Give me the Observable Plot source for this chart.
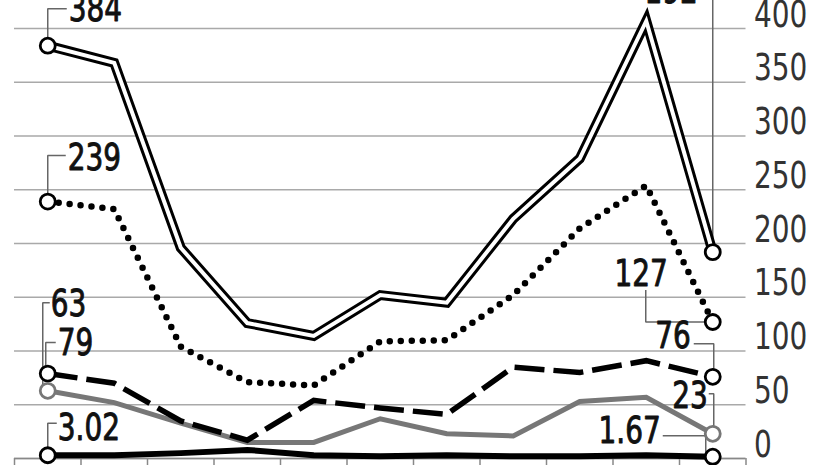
<!DOCTYPE html>
<html><head><meta charset="utf-8">
<script src="https://cdn.jsdelivr.net/npm/d3@7"></script>
<script src="https://cdn.jsdelivr.net/npm/@observablehq/plot@0.6"></script>
<style>html,body{margin:0;padding:0;background:#fff;overflow:hidden}</style>
</head><body><div id="chart"></div>
<script>
// ---- data ----
const periods = [0, 1, 2, 3, 4, 5, 6, 7, 8, 9, 10];
const doubleLineValues = [384, 368, 196, 126, 114, 152, 145, 223, 279, 407, 192];
const dottedValues     = [239, 232, 104, 71, 68, 109, 110, 152, 214, 254, 127];
const dashedValues     = [79, 70, 35, 17, 54, 47, 41, 85, 80, 91, 76];
const greyValues       = [63, 52, 33, 15, 15, 37, 23, 21, 53, 57, 23];
const blackValues      = [3.02, 3, 5, 8, 3, 2, 3, 2, 2, 3, 1.67];
const yTicks = [0, 50, 100, 150, 200, 250, 300, 350, 400];
const periodBoundaries = [-0.5, 0.5, 1.5, 2.5, 3.5, 4.5, 5.5, 6.5, 7.5, 8.5, 9.5, 10.5];

// ---- layout ----
const W = 826, H = 465;
const M = {top: 28, right: 80.5, bottom: 7, left: 14};
const xDomain = [-0.5, 10.5], yDomain = [0, 400];
const xs = Plot.scale({x: {type: "linear", domain: xDomain, range: [M.left, W - M.right]}});
const ys = Plot.scale({y: {type: "linear", domain: yDomain, range: [H - M.bottom, M.top]}});
const CONDENSE = 0.84;

const fmt = v => v < 10 ? v.toFixed(2) : String(v);

const series = [
  {key: "double", values: doubleLineValues, color: "#000"},
  {key: "dotted", values: dottedValues, color: "#000"},
  {key: "dashed", values: dashedValues, color: "#000"},
  {key: "grey",   values: greyValues,   color: "#777"},
  {key: "black",  values: blackValues,  color: "#000"}
];
const rowsOf = s => s.values.map((v, k) => ({key: s.key, i: periods[k], v}));

// label placement (pixel offsets from the end marker) and leader paths
const labelLayout = {
  double: {start: {dx: 21, dy: -37, anchor: "start", leader: [[0,0],[0,-37],[19,-37]]},
           end:   {dx: -15, dy: -261, anchor: "end",  leader: [[0,0],[0,-262],[-13,-262]]}},
  dotted: {start: {dx: 20, dy: -43, anchor: "start", leader: [[0,0],[0,-46],[18,-46]]},
           end:   {dx: -45, dy: -48, anchor: "end",  leader: [[0,0],[-67,0],[-67,-32]]}},
  dashed: {start: {dx: 10, dy: -30, anchor: "start", leader: [[-2,0],[-2,-31],[8,-31]]},
           end:   {dx: -22, dy: -41, anchor: "end",  leader: [[1,0],[1,-33],[-19,-33]]}},
  grey:   {start: {dx: 3, dy: -87, anchor: "start", leader: [[-5,0],[-5,-88],[2,-88]]},
           end:   {dx: -5, dy: -38, anchor: "end",  leader: [[1,0],[1,-40],[-4,-40]]}},
  black:  {start: {dx: 10, dy: -27, anchor: "start", leader: [[0,0],[0,-32],[9,-32]]},
           end:   {dx: -52, dy: -26, anchor: "end",  leader: [[-7,0],[-7,-21],[-50,-21]]}}
};

const endpoints = [];
const leaders = [];
const labelMarks = [];
for (const s of series) {
  const rows = rowsOf(s);
  for (const which of ["start", "end"]) {
    const r = which === "start" ? rows[0] : rows[rows.length - 1];
    endpoints.push({...r, color: s.color});
    const L = labelLayout[s.key][which];
    const id = s.key + which;
    for (const [px, py] of L.leader) {
      leaders.push({id,
        i: xs.invert(xs.apply(r.i) + px),
        v: ys.invert(ys.apply(r.v) + py)});
    }
    labelMarks.push(Plot.text([r], {x: "i", y: "v", text: d => fmt(d.v),
      dx: L.dx, dy: L.dy, textAnchor: L.anchor, lineAnchor: "middle",
      fill: "#111", stroke: "#111", strokeWidth: 0.9, fontSize: 37}));
  }
}

const tickBottom = ys.invert(ys.apply(0) + 14);
const lineOpts = {x: "i", y: "v", strokeLinejoin: "miter", strokeMiterlimit: 6, strokeLinecap: "butt"};
const byKey = k => rowsOf(series.find(s => s.key === k));

const plot = Plot.plot({
  width: W, height: H,
  marginTop: M.top, marginRight: M.right, marginBottom: M.bottom, marginLeft: M.left,
  x: {type: "linear", domain: xDomain, axis: null, label: null},
  y: {type: "linear", domain: yDomain, axis: null, label: null},
  style: {overflow: "visible", fontFamily: "'DejaVu Sans Condensed','DejaVu Sans',sans-serif", background: "#fff"},
  marks: [
    Plot.gridY(yTicks, {stroke: "#a9a9a9", strokeOpacity: 1, strokeWidth: 1.6}),
    Plot.ruleY([0], {stroke: "#888", strokeWidth: 1.5}),
    Plot.ruleX(periodBoundaries, {y1: 0, y2: tickBottom, stroke: "#888", strokeWidth: 1.5}),
    Plot.line(leaders, {x: "i", y: "v", z: "id", stroke: "#666", strokeWidth: 1.5, strokeLinejoin: "miter", strokeLinecap: "butt"}),
    Plot.line(byKey("grey"), {...lineOpts, stroke: "#777", strokeWidth: 5}),
    Plot.line(byKey("black"), {...lineOpts, stroke: "#000", strokeWidth: 6}),
    Plot.line(byKey("dashed"), {...lineOpts, stroke: "#000", strokeWidth: 5.5, strokeDasharray: "30 9"}),
    Plot.line(byKey("dotted"), {...lineOpts, stroke: "#000", strokeWidth: 6.5, strokeDasharray: "0 11", strokeLinecap: "round", strokeLinejoin: "round"}),
    Plot.line(byKey("double"), {...lineOpts, stroke: "#000", strokeWidth: 10}),
    Plot.line(byKey("double"), {...lineOpts, stroke: "#fff", strokeWidth: 4}),
    Plot.dot(endpoints, {x: "i", y: "v", r: 7.5, fill: "#fff", stroke: d => d.color, strokeWidth: 2.8}),
    ...labelMarks,
    Plot.axisY({anchor: "right", ticks: yTicks, tickSize: 0, tickPadding: 8, textAnchor: "start", lineAnchor: "bottom", dy: -2, fontSize: 37, fill: "#333", stroke: "#333", strokeWidth: 0.6, label: null})
  ]
});
// condense glyphs horizontally around each text's anchor point
d3.select(plot).selectAll("text").each(function() {
  const tr = this.getAttribute("transform") || "";
  const x = +(this.getAttribute("x") || 0);
  this.setAttribute("transform", `${tr} translate(${x},0) scale(${CONDENSE},1) translate(${-x},0)`);
});
document.getElementById("chart").appendChild(plot);
</script></body></html>
